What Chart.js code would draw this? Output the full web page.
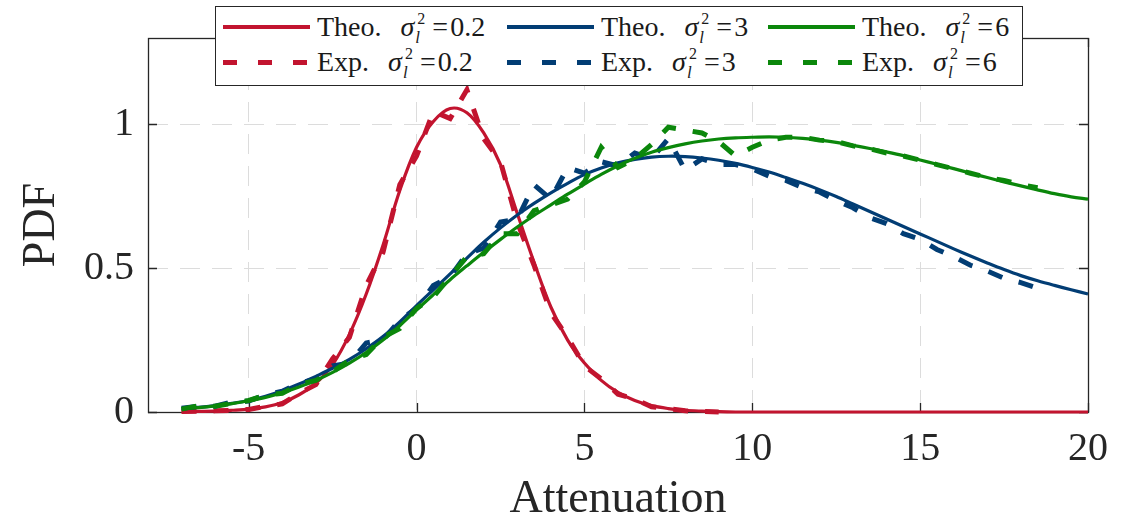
<!DOCTYPE html>
<html>
<head>
<meta charset="utf-8">
<script src="https://cdn.jsdelivr.net/npm/chart.js@4.4.1/dist/chart.umd.min.js"></script>
<style>
html,body{margin:0;padding:0;background:#fff;}
#wrap{position:relative;width:1138px;height:523px;overflow:hidden;}
#c{position:absolute;left:0;top:0;}
#legend{position:absolute;left:215px;top:6px;width:806px;height:78px;border:1px solid #262626;background:#fff;
  font-family:"Liberation Serif",serif;font-size:28px;color:#1a1a1a;}
.item{position:absolute;height:36px;display:flex;align-items:center;white-space:nowrap;}
.sw{width:87px;height:4px;margin-right:7px;flex:none;}
.lbl{line-height:36px;}
.sg{margin-left:5px;}
.ss{display:inline-block;position:relative;width:16px;height:0;vertical-align:baseline;}
.sp{position:absolute;left:3px;top:-25px;font-size:16px;line-height:1;font-style:normal;}
.sb{position:absolute;left:1px;top:-7px;font-size:17px;line-height:1;font-style:italic;}
.eq{margin:0 2px;}
</style>
</head>
<body>
<div id="wrap">
<canvas id="c" width="1138" height="523"></canvas>
<div id="legend"></div>
</div>
<script>
// ---------- data ----------
const theoX = [-7,-6.5,-6,-5.5,-5,-4.5,-4,-3.5,-3,-2.5,-2,-1.5,-1,-0.5,0,0.5,1,1.5,2,2.5,3,3.5,4,4.5,5,5.5,6,6.5,7,7.5,8,8.5,9,9.5,10,10.5,11,11.5,12,12.5,13,13.5,14,14.5,15,15.5,16,16.5,17,17.5,18,18.5,19,19.5,20];
const theoRed = [0.001,0.002,0.003,0.006,0.01,0.018,0.033,0.06,0.1,0.165,0.27,0.41,0.58,0.77,0.92,1.01,1.055,1.04,0.97,0.86,0.69,0.52,0.365,0.25,0.17,0.11,0.068,0.04,0.022,0.012,0.006,0.003,0.001,0,0,0,0,0,0,0,0,0,0,0,0,0,0,0,0,0,0,0,0,0,0];
const theoBlue = [0.012,0.016,0.022,0.03,0.04,0.055,0.074,0.097,0.124,0.152,0.183,0.22,0.262,0.313,0.37,0.425,0.48,0.535,0.59,0.64,0.685,0.725,0.762,0.795,0.825,0.848,0.866,0.878,0.886,0.889,0.888,0.883,0.875,0.864,0.85,0.834,0.815,0.795,0.773,0.749,0.723,0.697,0.671,0.645,0.619,0.593,0.567,0.542,0.518,0.495,0.474,0.456,0.44,0.425,0.41];
const theoGreen = [0.011,0.015,0.021,0.029,0.039,0.051,0.067,0.087,0.11,0.138,0.17,0.207,0.25,0.3,0.355,0.408,0.46,0.508,0.555,0.6,0.643,0.683,0.72,0.757,0.792,0.826,0.856,0.882,0.903,0.919,0.932,0.942,0.949,0.953,0.955,0.956,0.955,0.951,0.945,0.937,0.927,0.916,0.904,0.891,0.876,0.861,0.846,0.83,0.815,0.8,0.786,0.772,0.759,0.748,0.74];

const expRedX = [-7,-6.5,-6,-5.5,-5,-4.5,-4,-3.5,-3,-2.5,-2,-1.5,-1,-0.5,0,0.5,1,1.5,2,2.5,3,3.5,4,4.5,5,5.5,6,6.5,7,7.5,8,8.5,9];
const expRed = [0.002,0.003,0.004,0.006,0.009,0.02,0.028,0.065,0.095,0.185,0.26,0.44,0.555,0.79,0.89,1.045,1.02,1.12,0.95,0.87,0.66,0.51,0.345,0.26,0.16,0.115,0.062,0.045,0.018,0.012,0.004,0.002,0.0];
const expX = [-7,-6.5,-6,-5.5,-5,-4.5,-4,-3.5,-3,-2.5,-2,-1.5,-1,-0.5,0,0.5,1,1.5,2,2.5,3,3.5,4,4.5,5,5.5,6,6.5,7,7.5,8,8.5,9,9.5,10,10.5,11,11.5,12,12.5,13,13.5,14,14.5,15,15.5,16,16.5,17,17.5,18,18.5];
const expBlue = [0.013,0.02,0.02,0.035,0.038,0.06,0.072,0.10,0.115,0.16,0.17,0.24,0.25,0.32,0.36,0.44,0.47,0.55,0.57,0.66,0.67,0.79,0.74,0.85,0.83,0.87,0.855,0.9,0.88,0.95,0.84,0.88,0.86,0.86,0.845,0.82,0.805,0.78,0.765,0.735,0.71,0.675,0.655,0.62,0.60,0.565,0.54,0.51,0.49,0.465,0.45,0.43];
const expGreen = [0.01,0.022,0.02,0.03,0.04,0.058,0.065,0.095,0.11,0.14,0.18,0.20,0.26,0.29,0.36,0.40,0.47,0.54,0.55,0.62,0.62,0.70,0.72,0.74,0.80,0.92,0.85,0.88,0.93,0.99,0.98,0.97,0.94,0.89,0.92,0.945,0.955,0.955,0.945,0.94,0.925,0.915,0.90,0.89,0.875,0.86,0.845,0.83,0.815,0.805,0.79,0.78];

const xTicks = [-5,0,5,10,15,20];
const yTicks = [0,0.5,1];
const variances = ['0.2','3','6'];
const seriesKinds = ['Theo.','Exp.'];
const colors = ['#c2142f','#023d74','#0b870b'];

// ---------- chart ----------
const FONT = '"Liberation Serif", serif';
const pts = (xs, ys) => xs.map((x, i) => ({x: x, y: ys[i]}));
const label = (k, c) => seriesKinds[k] + ' σ_l^2=' + variances[c];

const theoSets = [theoRed, theoBlue, theoGreen];
const expSets = [[expRedX, expRed], [expX, expBlue], [expX, expGreen]];
const datasets = [];
for (let c = 0; c < 3; c++) {
  datasets.push({label: label(0, c), data: pts(theoX, theoSets[c]), borderColor: colors[c], borderWidth: 3.2,
    pointRadius: 0, tension: 0.35, clip: 8, order: 10 - 2 * c});
  datasets.push({label: label(1, c), data: pts(expSets[c][0], expSets[c][1]), borderColor: colors[c], borderWidth: 5,
    borderDash: [15, 17], pointRadius: 0, tension: 0, clip: 8, order: 9 - 2 * c});
}

const axesBox = {
  id: 'axesBox',
  beforeDatasetsDraw(chart) {
    const {ctx, chartArea: a, scales: {x, y}} = chart;
    ctx.save();
    ctx.setLineDash([]);
    ctx.strokeStyle = '#262626';
    ctx.lineWidth = 1.3;
    ctx.strokeRect(Math.round(a.left) + 0.5, Math.round(a.top) + 0.5, Math.round(a.right - a.left), Math.round(a.bottom - a.top));
    ctx.beginPath();
    xTicks.forEach(v => {
      const p = Math.round(x.getPixelForValue(v)) + 0.5;
      ctx.moveTo(p, a.bottom); ctx.lineTo(p, a.bottom - 9);
      ctx.moveTo(p, a.top); ctx.lineTo(p, a.top + 9);
    });
    yTicks.forEach(v => {
      const p = Math.round(y.getPixelForValue(v)) + 0.5;
      ctx.moveTo(a.left, p); ctx.lineTo(a.left + 9, p);
      ctx.moveTo(a.right, p); ctx.lineTo(a.right - 9, p);
    });
    ctx.stroke();
    ctx.restore();
  }
};

const chart = new Chart(document.getElementById('c'), {
  type: 'line',
  data: {datasets},
  options: {
    responsive: false,
    animation: false,
    devicePixelRatio: 1,
    layout: {padding: {left: 0, right: 50, top: 36, bottom: 0}},
    plugins: {legend: {display: false}, tooltip: {enabled: false}},
    scales: {
      x: {
        type: 'linear', min: -8, max: 20,
        afterBuildTicks: s => { s.ticks = xTicks.map(v => ({value: v})); },
        afterFit: s => { s.height = 111; },
        grid: {color: '#dcdcdc', lineWidth: 1, drawTicks: false},
        border: {display: false, dash: [20, 12]},
        ticks: {font: {family: FONT, size: 40}, color: '#262626', padding: 13, maxRotation: 0, autoSkip: false,
          callback: v => String(v)},
        title: {display: true, text: 'Attenuation', color: '#262626',
          font: {family: FONT, size: 46, lineHeight: 1}, padding: {top: 0, bottom: 0}}
      },
      y: {
        min: 0, max: 1.3,
        afterBuildTicks: s => { s.ticks = yTicks.map(v => ({value: v})); },
        afterFit: s => { s.width = 148; },
        grid: {color: '#dcdcdc', lineWidth: 1, drawTicks: false},
        border: {display: false, dash: [20, 12]},
        ticks: {font: {family: FONT, size: 40}, color: '#262626', padding: 14, callback: v => String(v)},
        title: {display: true, text: 'PDF', color: '#262626',
          font: {family: FONT, size: 46, lineHeight: 1}, padding: {top: 19, bottom: 0}}
      }
    }
  },
  plugins: [axesBox]
});

// ---------- legend (HTML, built from the chart's datasets) ----------
const leg = document.getElementById('legend');
const colX = [7, 291, 552];
const rowY = [2, 37];
for (let k = 0; k < 2; k++) {
  for (let c = 0; c < 3; c++) {
    const ds = chart.data.datasets[c * 2 + k];
    const item = document.createElement('div');
    item.className = 'item';
    item.style.left = colX[c] + 'px';
    item.style.top = rowY[k] + 'px';
    const sw = document.createElement('div');
    sw.className = 'sw';
    if (ds.borderDash) {
      sw.style.background = 'repeating-linear-gradient(to right,' + ds.borderColor + ' 0 14px, transparent 14px 35px)';
      sw.style.height = '5px';
    } else {
      sw.style.background = ds.borderColor;
    }
    const lb = document.createElement('span');
    lb.className = 'lbl';
    lb.innerHTML = seriesKinds[k] + '&nbsp;&nbsp;<i class="sg">σ</i><span class="ss"><span class="sp">2</span><span class="sb">l</span></span><span class="eq">=</span>' + variances[c];
    item.appendChild(sw);
    item.appendChild(lb);
    leg.appendChild(item);
  }
}
</script>
</body>
</html>
